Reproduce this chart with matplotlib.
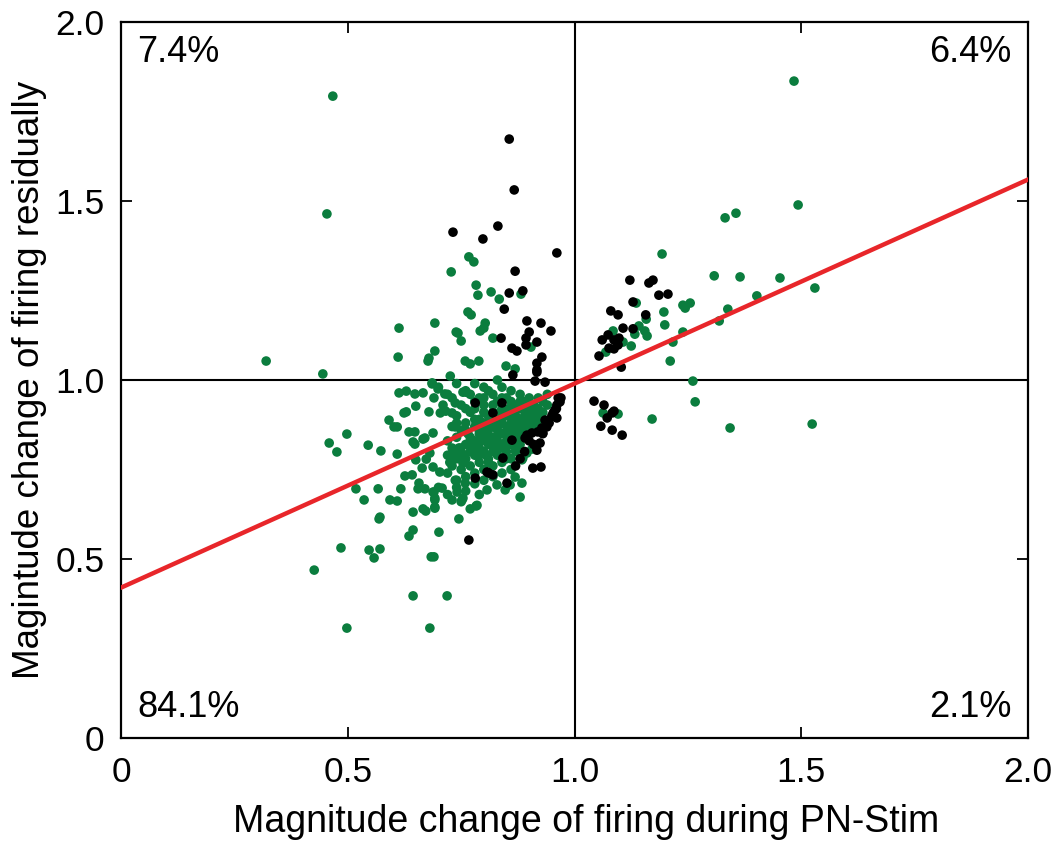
import matplotlib
matplotlib.use("Agg")
import matplotlib.pyplot as plt

plt.rcParams['font.family'] = ['Liberation Sans', 'DejaVu Sans']

# Neuronas (verde) - cambios durante PN-Stim vs residual
green_x = [
    0.320, 0.445, 0.467, 0.454,
    0.613, 0.692, 0.611, 0.692, 0.677, 0.679, 0.686,
    0.613, 0.629, 0.648, 0.666, 0.686, 0.690, 0.650, 0.624, 0.629, 0.679, 0.591, 0.602, 0.609,
    0.635, 0.648, 0.688, 0.498, 0.459, 0.476, 0.545, 0.573, 0.609, 0.644, 0.648, 0.666, 0.670,
    0.650, 0.673, 0.664, 0.626, 0.642, 0.518, 0.567, 0.617, 0.657, 0.655, 0.670, 0.536, 0.593,
    0.609, 0.690,
    0.569, 0.644, 0.666, 0.672, 0.692, 0.783, 0.745, 0.644, 0.635, 0.701, 0.485, 0.547, 0.571,
    0.558, 0.684, 0.690, 0.426, 0.644, 0.719, 0.498, 0.681, 0.692, 0.730, 0.752,
    0.767, 0.778, 0.728, 0.783, 0.787, 0.816, 0.834, 0.882, 0.765, 0.772, 0.803, 0.800, 0.792,
    0.739, 0.743, 0.750, 0.820, 0.904, 0.759, 0.770, 0.789, 0.849, 0.869,
    1.484, 1.493, 1.332, 1.356, 1.193, 1.308, 1.365, 1.453, 1.530, 1.402, 1.136, 1.197, 1.239,
    1.244, 1.255, 1.338, 1.319, 1.158, 1.199, 1.142, 1.085, 1.155, 1.160, 1.133, 1.239, 1.217,
    1.107, 1.125, 1.069, 1.211, 1.261, 1.266, 1.063, 1.096, 1.171, 1.343, 1.524,
    0.754, 0.737, 0.730, 0.761, 0.737, 0.748, 0.754, 0.737, 0.759, 0.741, 0.754, 0.807, 0.785,
    0.847, 0.858, 0.869, 0.829, 0.726,
    0.699, 0.714, 0.716, 0.704, 0.681, 0.688, 0.703, 0.688, 0.708, 0.692, 0.692, 0.571,
    0.886, 0.895, 0.906, 0.884, 0.884, 0.880,
    # nucleo denso
    0.72, 0.72, 0.72, 0.73, 0.73, 0.73, 0.74, 0.74, 0.74, 0.74, 0.75, 0.75, 0.75, 0.75,
    0.76, 0.76, 0.76, 0.76, 0.77, 0.77, 0.77, 0.77, 0.77, 0.78, 0.78, 0.78, 0.78, 0.78,
    0.79, 0.79, 0.79, 0.79, 0.79, 0.80, 0.80, 0.80, 0.80, 0.80, 0.81, 0.81, 0.81, 0.81, 0.81,
    0.82, 0.82, 0.82, 0.82, 0.82, 0.83, 0.83, 0.83, 0.83, 0.83, 0.84, 0.84, 0.84, 0.84, 0.84,
    0.84, 0.85, 0.85, 0.85, 0.85, 0.85, 0.86, 0.86, 0.86, 0.86, 0.86, 0.86, 0.87, 0.87, 0.87,
    0.87, 0.87, 0.88, 0.88, 0.88, 0.88, 0.88, 0.89, 0.89, 0.89, 0.89, 0.90, 0.90, 0.90, 0.90,
    0.91, 0.91, 0.91, 0.92, 0.92, 0.92, 0.93, 0.93, 0.94, 0.94,
    0.725, 0.745, 0.765, 0.785, 0.795, 0.805, 0.815, 0.825, 0.835, 0.845, 0.855, 0.865, 0.875,
    0.885, 0.895, 0.905, 0.915, 0.855, 0.835, 0.815, 0.795, 0.775, 0.755, 0.735, 0.865, 0.845,
    0.825, 0.805,
    0.70, 0.72, 0.74, 0.76, 0.78, 0.80, 0.82, 0.83, 0.71, 0.73,
    0.70, 0.72, 0.74, 0.76, 0.78, 0.80, 0.82, 0.79, 0.75, 0.84, 0.86, 0.77,
    0.76, 0.78, 0.80, 0.82, 0.84, 0.86, 0.88, 0.90, 0.79, 0.81, 0.83, 0.85, 0.87, 0.89, 0.77,
    0.79, 0.81, 0.83, 0.85, 0.87, 0.82, 0.84, 0.86, 0.88, 0.90, 0.92, 0.80, 0.78, 0.76, 0.74,
]
green_y = [
    1.053, 1.017, 1.793, 1.464,
    1.145, 1.159, 1.064, 1.081, 1.053, 1.061, 0.989,
    0.964, 0.969, 0.961, 0.964, 0.992, 0.950, 0.927, 0.908, 0.911, 0.911, 0.888, 0.869, 0.869,
    0.855, 0.855, 0.852, 0.849, 0.824, 0.799, 0.818, 0.802, 0.793, 0.827, 0.821, 0.835, 0.838,
    0.777, 0.779, 0.754, 0.732, 0.735, 0.696, 0.696, 0.696, 0.712, 0.696, 0.696, 0.665, 0.665,
    0.662, 0.687,
    0.612, 0.631, 0.640, 0.634, 0.642, 0.648, 0.612, 0.581, 0.564, 0.575, 0.531, 0.525, 0.528,
    0.503, 0.506, 0.506, 0.469, 0.397, 0.397, 0.307, 0.307, 0.665, 0.665, 0.665,
    1.344, 1.330, 1.302, 1.265, 1.237, 1.246, 1.226, 1.240, 1.190, 1.182, 1.159, 1.145, 1.137,
    1.134, 1.131, 1.109, 1.117, 1.092, 1.053, 1.045, 1.053, 1.039, 1.031,
    1.835, 1.489, 1.453, 1.466, 1.352, 1.291, 1.288, 1.285, 1.257, 1.235, 1.215, 1.190, 1.209,
    1.201, 1.215, 1.198, 1.165, 1.170, 1.154, 1.151, 1.137, 1.137, 1.123, 1.128, 1.134, 1.106,
    1.106, 1.095, 1.078, 1.053, 0.997, 0.939, 0.908, 0.905, 0.891, 0.866, 0.877,
    0.966, 0.936, 0.908, 0.966, 0.869, 0.810, 0.768, 0.720, 0.712, 0.687, 0.670, 0.693, 0.650,
    0.693, 0.707, 0.729, 0.707, 1.011,
    0.975, 0.961, 0.913, 0.908, 0.796, 0.757, 0.743, 0.687, 0.698, 0.670, 0.645, 0.617,
    0.782, 0.796, 0.807, 0.777, 0.712, 0.673,
    # nucleo denso
    0.74, 0.79, 0.83, 0.76, 0.81, 0.87, 0.72, 0.78, 0.84, 0.90, 0.75, 0.80, 0.86, 0.93,
    0.73, 0.78, 0.82, 0.88, 0.76, 0.80, 0.84, 0.91, 0.96, 0.74, 0.79, 0.83, 0.87, 0.92,
    0.77, 0.81, 0.85, 0.89, 0.95, 0.75, 0.80, 0.84, 0.88, 0.93, 0.78, 0.82, 0.86, 0.90, 0.97,
    0.76, 0.80, 0.84, 0.87, 0.91, 0.79, 0.83, 0.86, 0.89, 0.94, 0.77, 0.81, 0.85, 0.88, 0.92,
    0.98, 0.80, 0.83, 0.87, 0.90, 0.95, 0.78, 0.82, 0.85, 0.88, 0.91, 0.94, 0.80, 0.84, 0.87,
    0.90, 0.93, 0.82, 0.86, 0.89, 0.92, 0.96, 0.84, 0.87, 0.90, 0.94, 0.85, 0.88, 0.91, 0.95,
    0.87, 0.90, 0.93, 0.89, 0.92, 0.95, 0.91, 0.94, 0.93, 0.96,
    0.77, 0.81, 0.85, 0.81, 0.87, 0.86, 0.84, 0.88, 0.85, 0.90, 0.86, 0.89, 0.86,
    0.88, 0.92, 0.89, 0.91, 0.92, 0.91, 0.88, 0.83, 0.82, 0.79, 0.79, 0.83, 0.82,
    0.82, 0.79,
    0.98, 0.96, 0.99, 0.97, 0.99, 0.98, 0.96, 1.00, 0.93, 0.95,
    0.70, 0.68, 0.70, 0.69, 0.71, 0.72, 0.73, 0.68, 0.66, 0.74, 0.75, 0.64,
    0.86, 0.89, 0.91, 0.93, 0.95, 0.97, 0.94, 0.93, 0.79, 0.77, 0.81, 0.78, 0.81, 0.80, 0.83,
    0.86, 0.84, 0.87, 0.85, 0.86, 0.89, 0.90, 0.90, 0.84, 0.86, 0.87, 0.95, 0.94, 0.92, 0.88,
]

# Neuronas (negro)
black_x = [
    0.856, 0.867, 0.732, 0.831, 0.798, 0.961, 0.869, 0.856, 0.886, 0.845, 0.895, 0.926, 0.948,
    0.900, 0.893, 0.917, 0.838, 0.862, 0.873, 0.928, 0.917, 0.917, 0.864, 0.893,
    0.767,
    0.917, 0.913, 0.935, 0.964, 0.968, 0.961, 0.957, 0.953, 0.961, 0.935, 0.944, 0.928, 0.939,
    0.919, 0.930, 0.895, 0.906, 0.891, 0.924, 0.917, 0.908, 0.926,
    0.811, 0.820, 0.807, 0.781, 0.851, 0.781, 0.820, 0.840, 0.842, 0.862,
    0.89, 0.90, 0.91, 0.93, 0.95, 0.96, 0.97, 0.88, 0.87,
    1.122, 1.164, 1.173, 1.186, 1.206, 1.129, 1.080, 1.096, 1.157, 1.107, 1.129, 1.074, 1.061,
    1.087, 1.098, 1.076, 1.087, 1.096, 1.054, 1.103, 1.043, 1.065, 1.072, 1.083, 1.087, 1.058,
    1.083, 1.105,
]
black_y = [
    1.673, 1.531, 1.413, 1.430, 1.394, 1.355, 1.304, 1.243, 1.249, 1.198, 1.165, 1.159, 1.137,
    1.134, 1.117, 1.106, 1.117, 1.089, 1.081, 1.064, 1.047, 1.028, 1.014, 1.098,
    0.553,
    1.022, 0.997, 0.994, 0.950, 0.939, 0.930, 0.916, 0.908, 0.894, 0.888, 0.880, 0.866, 0.869,
    0.855, 0.852, 0.846, 0.852, 0.838, 0.824, 0.804, 0.754, 0.757,
    0.740, 0.735, 0.743, 0.726, 0.712, 0.936, 0.908, 0.936, 0.782, 0.832,
    0.80, 0.83, 0.82, 0.85, 0.90, 0.92, 0.95, 0.78, 0.76,
    1.279, 1.271, 1.279, 1.237, 1.240, 1.218, 1.193, 1.182, 1.182, 1.145, 1.143, 1.126, 1.112,
    1.112, 1.117, 1.089, 1.087, 1.098, 1.067, 1.036, 0.941, 0.930, 0.894, 0.908, 0.913, 0.871,
    0.860, 0.846,
]

# Ajuste lineal
pendiente = 0.57
intercepto = 0.42

ticks = [0, 0.5, 1.0, 1.5, 2.0]
etiquetas = ["0", "0.5", "1.0", "1.5", "2.0"]
porcentajes = ["7.4%", "6.4%", "84.1%", "2.1%"]

fig = plt.figure(figsize=(10.57, 8.44), dpi=100)
ax = fig.add_axes([0.1145, 0.1256, 0.8581, 0.8483])

ax.axvline(1.0, color="black", lw=1.5, zorder=1)
ax.axhline(1.0, color="black", lw=1.5, zorder=1)

ax.scatter(green_x, green_y, s=48, color="#0b7d3e", edgecolors="none", zorder=2)
ax.scatter(black_x, black_y, s=48, color="black", edgecolors="none", zorder=3)

xs = [0, 2]
ax.plot(xs, [intercepto + pendiente * x for x in xs], color="#e8262a", lw=3.2, zorder=4)

ax.set_xlim(0, 2)
ax.set_ylim(0, 2)
ax.set_xticks(ticks)
ax.set_xticklabels(etiquetas)
ax.set_yticks(ticks)
ax.set_yticklabels(etiquetas)
ax.tick_params(direction="in", top=True, right=True, length=8, width=1.3, labelsize=25.5)
ax.tick_params(axis="x", pad=13)
ax.tick_params(axis="y", pad=12)
for s in ax.spines.values():
    s.set_linewidth(1.6)

ax.set_xlabel("Magnitude change of firing during PN-Stim", fontsize=27, labelpad=11)
ax.xaxis.label.set_x(0.513)
ax.set_ylabel("Magintude change of firing residually", fontsize=26.5, labelpad=6)

ax.text(0.018, 0.982, porcentajes[0], transform=ax.transAxes, fontsize=26, ha="left", va="top")
ax.text(0.982, 0.982, porcentajes[1], transform=ax.transAxes, fontsize=26, ha="right", va="top")
ax.text(0.018, 0.018, porcentajes[2], transform=ax.transAxes, fontsize=26, ha="left", va="bottom")
ax.text(0.982, 0.018, porcentajes[3], transform=ax.transAxes, fontsize=26, ha="right", va="bottom")

plt.savefig("out.png", dpi=100)
